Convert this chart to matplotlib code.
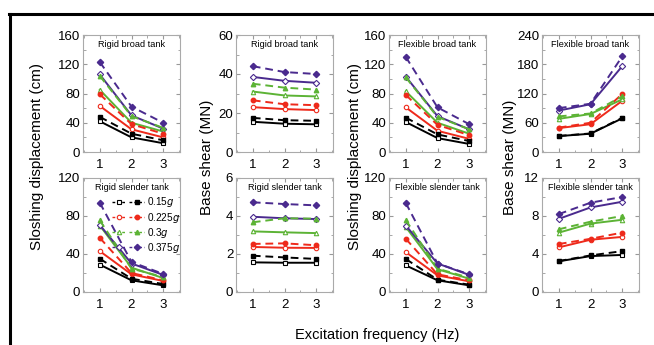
import numpy as np
import matplotlib
matplotlib.use("Agg")
import matplotlib.pyplot as plt
from matplotlib.lines import Line2D
from matplotlib.legend_handler import HandlerTuple
from matplotlib.ticker import MultipleLocator

plt.rcParams["font.family"] = ["Liberation Sans", "DejaVu Sans"]

freq = [1, 2, 3]
pga_labels = ["0.15$\\it{g}$", "0.225$\\it{g}$", "0.3$\\it{g}$", "0.375$\\it{g}$"]

# each panel: (open/solid series, filled/dashed series) per PGA level
rigid_broad_disp_open = [[42, 20, 12], [63, 31, 20], [85, 40, 28], [106, 50, 32]]
rigid_broad_disp_fill = [[48, 25, 16], [79, 38, 25], [104, 49, 33], [123, 62, 40]]

rigid_broad_shear_open = [[15.5, 14.5, 14.2], [23, 22, 21.5], [31, 29, 28.5], [38.5, 36.5, 35.5]]
rigid_broad_shear_fill = [[17.5, 16.3, 16], [26.5, 24.5, 24], [35, 33, 32], [44, 41, 40]]

flex_broad_disp_open = [[41, 19, 11], [61, 29, 18], [83, 40, 25], [103, 49, 31]]
flex_broad_disp_fill = [[47, 24, 15], [78, 37, 23], [102, 48, 31], [130, 61, 38]]

flex_broad_shear_open = [[32.6, 37.5, 69], [49, 57, 105], [68, 78, 108], [85, 98, 176]]
flex_broad_shear_fill = [[33, 38, 70], [50, 60, 119], [73, 79, 114], [90, 99, 196]]

rigid_slender_disp_open = [[28.8, 12.3, 7], [43, 18.6, 11.6], [70, 25.6, 14.7], [70.5, 30, 18]]
rigid_slender_disp_fill = [[35, 14, 8.4], [57, 20, 12.3], [75.4, 24.6, 15.8], [94, 31.6, 19]]

rigid_slender_shear_open = [[1.56, 1.54, 1.54], [2.37, 2.33, 2.32], [3.19, 3.14, 3.1], [3.96, 3.88, 3.84]]
rigid_slender_shear_fill = [[1.91, 1.82, 1.74], [2.53, 2.56, 2.46], [3.67, 3.88, 3.86], [4.72, 4.63, 4.56]]

flex_slender_disp_open = [[28, 12.3, 7], [42, 17.5, 11.2], [68.4, 24, 14], [70, 30, 18]]
flex_slender_disp_fill = [[34.7, 13, 7.7], [56, 18.6, 12.3], [75.8, 24.6, 15], [93.7, 30, 18.6]]

flex_slender_shear_open = [[3.23, 3.78, 3.9], [4.7, 5.5, 5.8], [6.25, 7.2, 7.6], [7.7, 8.9, 9.5]]
flex_slender_shear_fill = [[3.26, 3.85, 4.3], [5.05, 5.6, 6.25], [6.6, 7.4, 8.0], [8.2, 9.4, 10.0]]

colors = ["#000000", "#ee2a1b", "#5cb335", "#4a2a8e"]
markers = ["s", "o", "^", "D"]

panels = [
    ("Rigid broad tank", rigid_broad_disp_open, rigid_broad_disp_fill, 160, 40),
    ("Rigid broad tank", rigid_broad_shear_open, rigid_broad_shear_fill, 60, 20),
    ("Flexible broad tank", flex_broad_disp_open, flex_broad_disp_fill, 160, 40),
    ("Flexible broad tank", flex_broad_shear_open, flex_broad_shear_fill, 240, 60),
    ("Rigid slender tank", rigid_slender_disp_open, rigid_slender_disp_fill, 120, 40),
    ("Rigid slender tank", rigid_slender_shear_open, rigid_slender_shear_fill, 6, 2),
    ("Flexible slender tank", flex_slender_disp_open, flex_slender_disp_fill, 120, 40),
    ("Flexible slender tank", flex_slender_shear_open, flex_slender_shear_fill, 12, 4),
]

W, H = 654, 345
fig = plt.figure(figsize=(W / 100, H / 100), dpi=100)

lefts = [83, 236, 389, 542]
rows = [(35, 152), (178, 292)]
width = 97

for k, (title, open_s, fill_s, ymax, ystep) in enumerate(panels):
    r, c = divmod(k, 4)
    top, bot = rows[r]
    ax = fig.add_axes([lefts[c] / W, (H - bot) / H, width / W, (bot - top) / H])
    for i in range(4):
        ax.plot(freq, open_s[i], color=colors[i], lw=1.4, marker=markers[i],
                ms=3.2, mfc="white", mec=colors[i], mew=0.8, zorder=3)
        ax.plot(freq, fill_s[i], color=colors[i], lw=1.4, ls=(0, (4, 2.5)),
                marker=markers[i], ms=3.2, mfc=colors[i], mec=colors[i], zorder=4)
    ax.set_xlim(0.47, 3.53)
    ax.set_ylim(0, ymax)
    ax.set_xticks([1, 2, 3])
    ax.xaxis.set_minor_locator(MultipleLocator(0.5))
    ax.yaxis.set_major_locator(MultipleLocator(ystep))
    ax.yaxis.set_minor_locator(MultipleLocator(ystep / 2))
    ax.tick_params(which="both", direction="in", top=True, right=True,
                   color="#999999", labelsize=9.5, pad=2)
    ax.tick_params(which="major", length=3)
    ax.tick_params(which="minor", length=1.8)
    ax.tick_params(axis="x", pad=5)
    for sp in ax.spines.values():
        sp.set_color("#aaaaaa")
        sp.set_linewidth(0.8)
    ax.text(0.5, 0.96, title, transform=ax.transAxes, ha="center", va="top",
            fontsize=6.6)

    if k == 4:
        handles = []
        for i in range(4):
            h_open = Line2D([], [], color=colors[i], lw=1.0, ls=(0, (2, 1.5)),
                            marker=markers[i], ms=3.2, mfc="white", mec=colors[i], mew=0.8)
            h_fill = Line2D([], [], color=colors[i], lw=1.0, ls=(0, (2, 1.5)),
                            marker=markers[i], ms=3.2, mfc=colors[i], mec=colors[i])
            handles.append((h_open, h_fill))
        ax.legend(handles, pga_labels, handler_map={tuple: HandlerTuple(ndivide=None, pad=0.3)},
                  loc="upper right", bbox_to_anchor=(1.06, 0.9), frameon=False,
                  fontsize=7.2, handlelength=3.2, handletextpad=0.3,
                  labelspacing=0.12, borderpad=0.1)

# shared y labels
ylabels = ["Sloshing displacement (cm)", "Base shear (MN)",
           "Sloshing displacement (cm)", "Base shear (MN)"]
ylab_x = [37, 207, 355, 510]
for x, lab in zip(ylab_x, ylabels):
    fig.text(x / W, 1 - 157 / H, lab, rotation=90, ha="center", va="center", fontsize=11)

fig.text(377 / W, 1 - 335 / H, "Excitation frequency (Hz)", ha="center", va="center", fontsize=10.5)

# black frame (top and left edges)
fig.add_artist(Line2D([9 / W, 1.0], [1 - 14 / H, 1 - 14 / H], transform=fig.transFigure,
                      color="black", lw=2.2))
fig.add_artist(Line2D([10 / W, 10 / W], [0, 1 - 14 / H], transform=fig.transFigure,
                      color="black", lw=2.2))

fig.savefig("out.png", dpi=100)
